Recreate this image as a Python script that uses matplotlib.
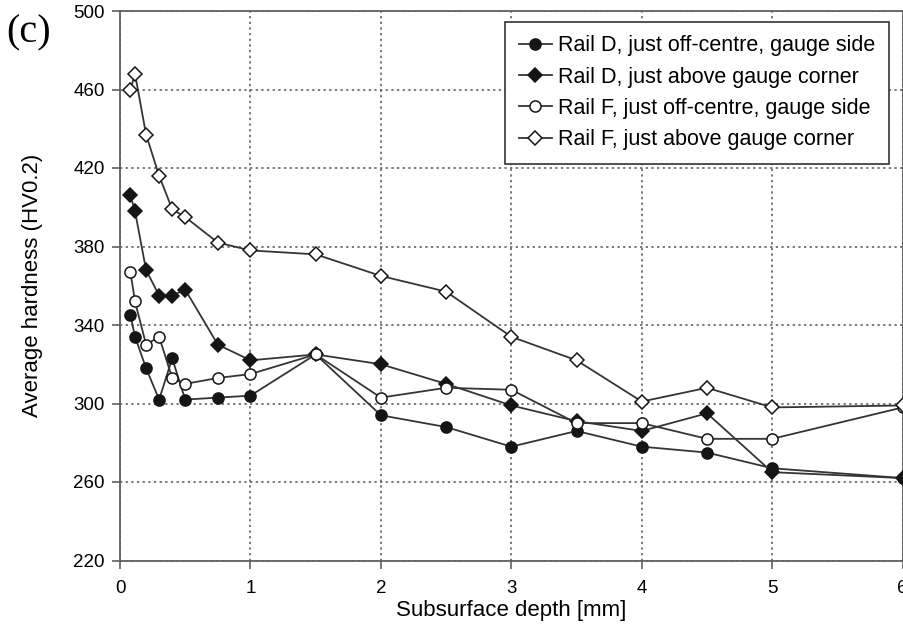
import matplotlib
matplotlib.use('Agg')
import matplotlib.pyplot as plt

matplotlib.rcParams['font.family'] = ['Liberation Sans', 'DejaVu Sans']

# Données (profondeur en mm, dureté HV0.2)
depth = [0.08, 0.115, 0.2, 0.3, 0.4, 0.5, 0.75, 1, 1.5, 2, 2.5, 3, 3.5, 4, 4.5, 5, 6]
rail_d_offcentre = [345, 334, 318, 302, 323, 302, 303, 304, 325, 294, 288, 278, 286, 278, 275, 267, 262]
rail_d_corner = [406, 398, 368, 355, 355, 358, 330, 322, 325, 320, 310, 299, 291, 286, 295, 265, 262]
rail_f_offcentre = [367, 352, 330, 334, 313, 310, 313, 315, 325, 303, 308, 307, 290, 290, 282, 282, 298]
rail_f_corner = [460, 468, 437, 416, 399, 395, 382, 378, 376, 365, 357, 334, 322, 301, 308, 298, 299]

labels = ['Rail D, just off-centre, gauge side',
          'Rail D, just above gauge corner',
          'Rail F, just off-centre, gauge side',
          'Rail F, just above gauge corner']

x_ticks = [0, 1, 2, 3, 4, 5, 6]
y_ticks = [220, 260, 300, 340, 380, 420, 460, 500]

LINE_COL = '#353535'
EDGE_COL = '#151515'
AXIS_COL = '#606060'

fig = plt.figure(figsize=(9.04, 6.24), dpi=100)
ax = fig.add_axes([120 / 904, 1 - 560.5 / 624, 782.7 / 904, 549.5 / 624])

series = [
    (rail_d_offcentre, 'o', EDGE_COL, 8),
    (rail_d_corner, 'D', EDGE_COL, 7),
    (rail_f_offcentre, 'o', 'white', 8),
    (rail_f_corner, 'D', 'white', 7),
]
for (vals, mk, fc, ms), lab in zip(series, labels):
    ax.plot(depth, vals, color=LINE_COL, linewidth=1.3, marker=mk, markersize=ms,
            markerfacecolor=fc, markeredgecolor=EDGE_COL, markeredgewidth=1.1,
            label=lab, clip_on=False, zorder=3)

ax.set_xlim(0, 6)
ax.set_ylim(220, 500)
ax.set_xticks(x_ticks)
ax.set_yticks(y_ticks)
ax.tick_params(direction='out', length=6, width=1.2, color=AXIS_COL, labelsize=13.5)
ax.tick_params(axis='y', pad=5)
ax.tick_params(axis='x', pad=8)
for sp in ax.spines.values():
    sp.set_color(AXIS_COL)
    sp.set_linewidth(1.3)
ax.grid(True, linestyle=(0, (1.5, 2.2)), color='#555555', linewidth=1.1)
ax.set_axisbelow(True)

ax.set_xlabel('Subsurface depth [mm]', fontsize=16, labelpad=2)
ax.set_ylabel('Average hardness (HV0.2)', fontsize=16, labelpad=22)

leg = ax.legend(loc='upper right', bbox_to_anchor=(0.9825, 0.98), borderaxespad=0,
                fontsize=15.5, frameon=True, fancybox=False, handlelength=1.55,
                handletextpad=0.3, labelspacing=0.48, borderpad=0.62)
leg.get_frame().set_edgecolor('#333333')
leg.get_frame().set_linewidth(1.2)
leg.get_frame().set_alpha(1)

fig.text(29 / 904, 1 - 33 / 624, '(c)', family=['Liberation Serif', 'DejaVu Serif'],
         fontsize=29, ha='center', va='center')

plt.savefig('out.png', dpi=100)
plt.close()
